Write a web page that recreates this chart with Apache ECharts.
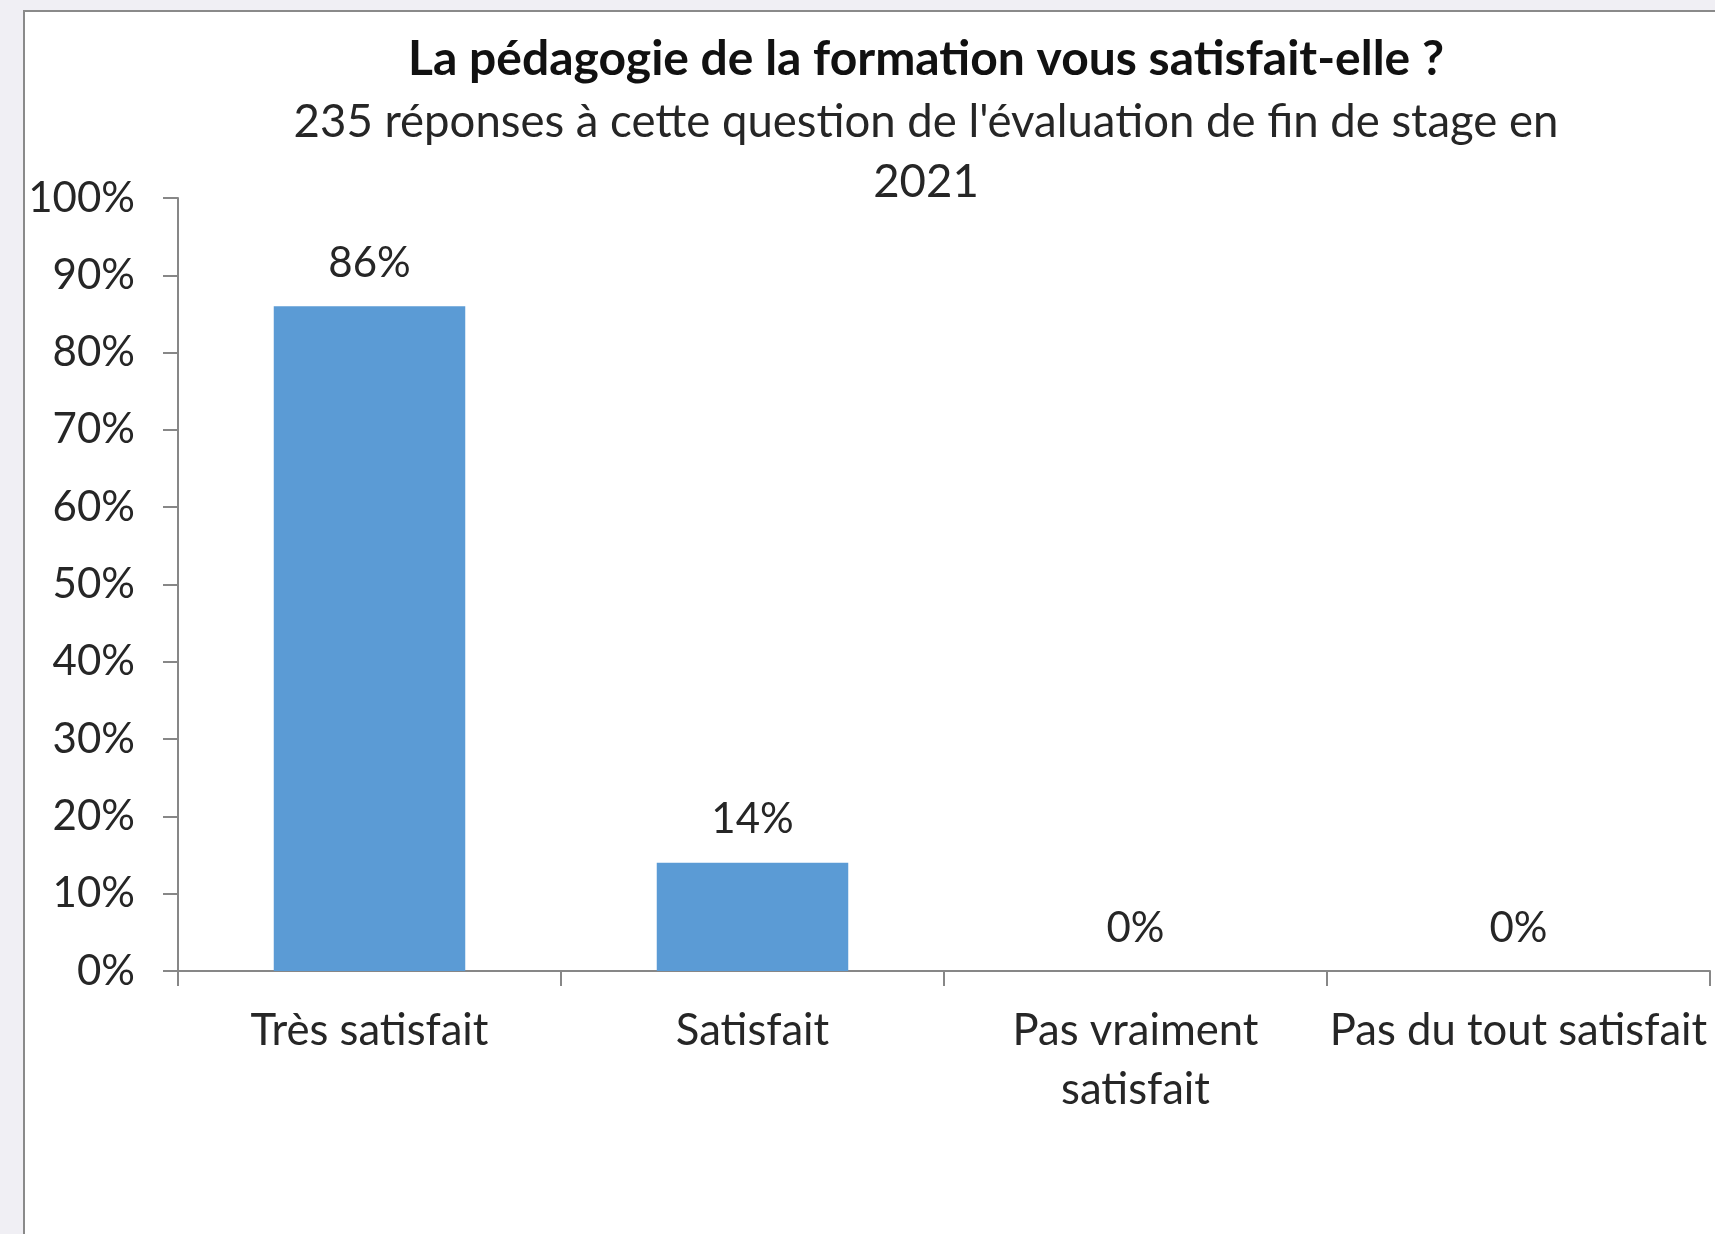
<!DOCTYPE html>
<html>
<head>
<meta charset="utf-8">
<script src="https://cdn.jsdelivr.net/npm/echarts@6/dist/echarts.min.js"></script>
<style>
  html, body { margin: 0; padding: 0; background: #f0eff4; }
  #main { width: 1715px; height: 1234px; }
</style>
</head>
<body>
<div id="main"></div>
<script>
// data
const categories = ['Très satisfait', 'Satisfait', 'Pas vraiment\nsatisfait', 'Pas du tout satisfait'];
const shares = [86, 14, 0, 0];
const yTicks = [0, 10, 20, 30, 40, 50, 60, 70, 80, 90, 100];

const font = 'Lato';
const textColor = '#262626';
const axisColor = '#878787';

let chartDom = document.getElementById('main');
let myChart = echarts.init(chartDom, null, { renderer: 'canvas' });

const option = {
  backgroundColor: '#f0eff4',
  textStyle: { fontFamily: font },
  graphic: [
    {
      type: 'rect',
      z: -10,
      shape: { x: 24, y: 11, width: 1700, height: 1240 },
      style: { fill: '#ffffff', stroke: '#8a8a8a', lineWidth: 2 }
    }
  ],
  title: {
    text: 'La pédagogie de la formation vous satisfait-elle ?',
    subtext: "235 réponses à cette question de l'évaluation de fin de stage en\n2021",
    left: 921,
    top: 28,
    textAlign: 'center',
    itemGap: 5,
    textStyle: { fontFamily: font, fontWeight: 'bold', fontSize: 48, color: '#111111', lineHeight: 54 },
    subtextStyle: { fontFamily: font, fontSize: 45.5, color: textColor, lineHeight: 60 }
  },
  grid: { left: 178, right: 5, top: 198, bottom: 263, containLabel: false },
  xAxis: {
    type: 'category',
    data: categories,
    axisLine: { lineStyle: { color: axisColor, width: 2 } },
    axisTick: { show: true, length: 15, lineStyle: { color: axisColor, width: 2 } },
    axisLabel: { color: textColor, fontSize: 43.6, margin: 30, lineHeight: 59, interval: 0 }
  },
  yAxis: {
    type: 'value',
    min: 0,
    max: 100,
    interval: 10,
    axisLine: { show: true, lineStyle: { color: axisColor, width: 2 } },
    axisTick: { show: true, length: 15, lineStyle: { color: axisColor, width: 2 } },
    splitLine: { show: false },
    axisLabel: {
      color: textColor,
      fontSize: 42,
      margin: 43,
      formatter: v => (yTicks.includes(v) ? v + '%' : '')
    }
  },
  series: [
    {
      type: 'bar',
      data: shares,
      barWidth: '50%',
      itemStyle: { color: '#5b9bd5' },
      label: {
        show: true,
        position: 'top',
        distance: 22,
        color: textColor,
        fontSize: 42,
        formatter: p => p.value + '%'
      }
    }
  ],
  animation: false
};

myChart.setOption(option);
</script>
</body>
</html>
